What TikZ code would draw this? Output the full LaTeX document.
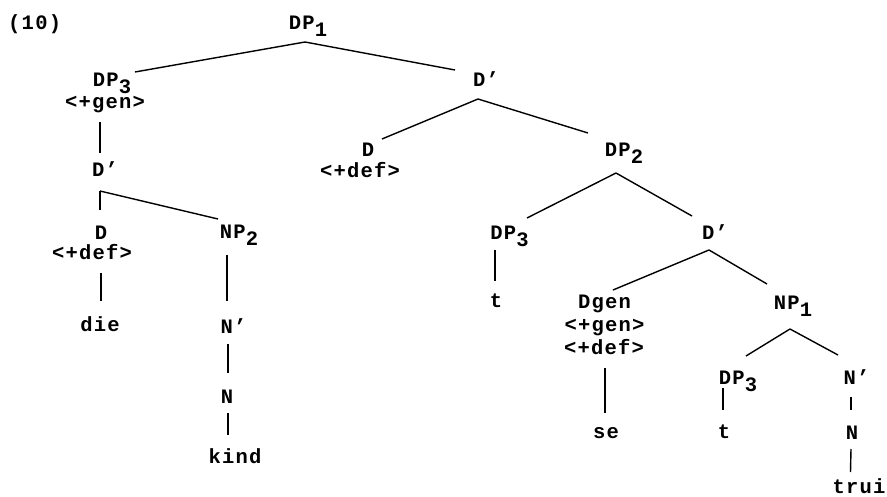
\documentclass[tikz,border=0pt]{standalone}
\usepackage{fontspec}
\setmainfont{Liberation Mono}[LetterSpace=6]
\usetikzlibrary{calc}
\newcommand\lsub[1]{\raisebox{-7pt}{#1}}
\tikzset{
  lab/.style={inner sep=0pt, anchor=base, font=\fontsize{20.5}{20.5}\selectfont\bfseries},
  br/.style={line width=1.4pt},
}
\newcommand\branch[4]{\draw[br] ($(#1.base)+(#2)$) -- ($(#3.base)+(#4)$);}
\begin{document}
\begin{tikzpicture}[x=1pt,y=-1pt]
\useasboundingbox (0,0) rectangle (887,497);
\node[lab, anchor=base west] (ex) at (8,30) {(10)};
\node[lab] (dpA) at (308,29.5) {DP\lsub{1}};
\node[lab] (dpB) at (112,86.5) {DP\lsub{3}};
\node[lab] (genB) at (105,108.5) {<+gen>};
\node[lab] (dbarB) at (105,176.5) {D’};
\node[lab] (dB) at (101,239.5) {D};
\node[lab] (defB) at (92,260) {<+def>};
\node[lab] (die) at (100,332) {die};
\node[lab] (npB) at (239,238.5) {NP\lsub{2}};
\node[lab] (nbarB) at (233.5,333.5) {N’};
\node[lab] (nB) at (227,403.5) {N};
\node[lab] (kind) at (235,463) {kind};
\node[lab] (dbarA) at (486,86.5) {D’};
\node[lab] (dA) at (368,156.5) {D};
\node[lab] (defA) at (360,178) {<+def>};
\node[lab] (dp2) at (624,156.5) {DP\lsub{2}};
\node[lab] (dpC) at (509.5,239.5) {DP\lsub{3}};
\node[lab] (tC) at (496,308) {t};
\node[lab] (dbarC) at (715,239.5) {D’};
\node[lab] (dgen) at (604.5,308.5) {Dgen};
\node[lab] (genC) at (604.5,331) {<+gen>};
\node[lab] (defC) at (604,355) {<+def>};
\node[lab] (np1) at (793,309.5) {NP\lsub{1}};
\node[lab] (se) at (606,438) {se};
\node[lab] (dpD) at (738,384.5) {DP\lsub{3}};
\node[lab] (tD) at (724,438) {t};
\node[lab] (nbarD) at (856.5,384.5) {N’};
\node[lab] (nD) at (852,439.5) {N};
\node[lab] (trui) at (859,493) {trui};
\branch{dpA}{-3,12.5}{dpB}{23,-14.5}
\branch{dpA}{-3,12.5}{dbarA}{-31,-16.5}
\branch{genB}{-5,14}{dbarB}{-5,-23.5}
\branch{dbarB}{-5,14.5}{dB}{-1,-29.5}
\branch{dbarB}{-5,14.5}{npB}{-21,-19.5}
\branch{defB}{9,13}{die}{1,-31}
\branch{npB}{-12,16.5}{nbarB}{-6.5,-32.5}
\branch{nbarB}{-5.5,10.5}{nB}{1,-30.5}
\branch{nB}{1,9.5}{kind}{-7,-28}
\branch{dbarA}{-8,12.5}{dA}{14,-17.5}
\branch{dbarA}{-8,12.5}{dp2}{-36,-23.5}
\branch{dp2}{-8,16.5}{dpC}{17.5,-21.5}
\branch{dp2}{-8,16.5}{dbarC}{-23,-23.5}
\branch{dpC}{-14.5,10.5}{tC}{-1,-27}
\branch{dbarC}{-6,10.5}{dgen}{8.5,-18.5}
\branch{dbarC}{-6,10.5}{np1}{-26,-25.5}
\branch{defC}{1,13}{se}{-1,-25}
\branch{np1}{-3,19.5}{dpD}{8,-28.5}
\branch{np1}{-3,19.5}{nbarD}{-18.5,-29.5}
\branch{dpD}{-15,3.5}{tD}{-1,-28}
\branch{nbarD}{-5.5,12.5}{nD}{-1,-29.5}
\branch{nD}{-1,9.5}{trui}{-8.5,-21}
\end{tikzpicture}
\end{document}
